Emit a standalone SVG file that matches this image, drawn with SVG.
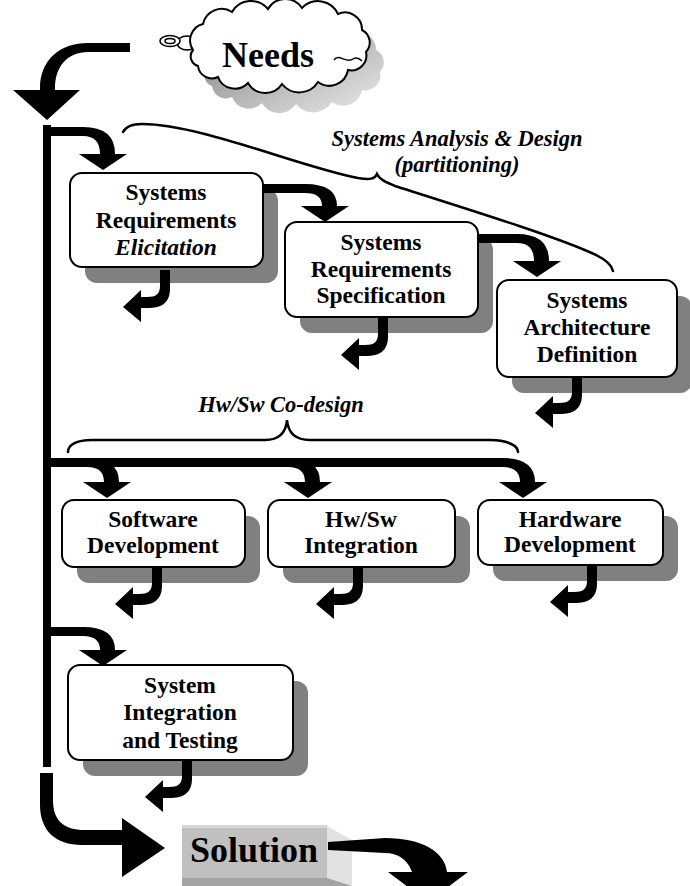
<svg xmlns="http://www.w3.org/2000/svg" width="690" height="886" viewBox="0 0 690 886">
<defs>
<style>
.t{font-family:"Liberation Serif","Times New Roman",serif;font-weight:bold;font-size:23.5px;text-anchor:middle;fill:#000}
.i{font-style:italic}
.big{font-size:36px}
.lbl{font-family:"Liberation Serif","Times New Roman",serif;font-weight:bold;font-style:italic;font-size:22.5px;text-anchor:middle;fill:#000}
.box{fill:#fff;stroke:#000;stroke-width:2}
.sh{fill:#808080}
.arr{fill:#000}
.brace{fill:none;stroke:#000;stroke-width:2.5;stroke-linecap:round}
</style>
<path id="ret" d="M -5,0 L 5,0 L 5,18 C 5,33 -3,38 -18,38 L -24,38 L -24,52 L -42,37 L -24,20 L -24,27 L -18,27 C -9,27 -5,24 -5,16 Z"/>
<path id="cloud" d="M 193,50 A 17 17 0 0 1 203,24 A 19 19 0 0 1 232,12 A 22 22 0 0 1 268,9 A 20 20 0 0 1 302,8 A 22 22 0 0 1 338,14 A 17 17 0 0 1 362,30 A 14 14 0 0 1 366,52 A 15 15 0 0 1 348,70 A 19 19 0 0 1 318,82 A 22 22 0 0 1 282,84 A 20 20 0 0 1 248,83 A 18 18 0 0 1 218,77 A 14 14 0 0 1 198,66 A 10 10 0 0 1 193,50 Z"/>
<linearGradient id="cg" x1="0" y1="0" x2="1" y2="1">
<stop offset="0" stop-color="#7a7a7a"/>
<stop offset="1" stop-color="#ececec"/>
</linearGradient>
</defs>
<rect width="690" height="886" fill="#fff"/>

<g id="needs">
<use href="#cloud" transform="translate(14,20)" fill="url(#cg)"/>
<ellipse cx="187" cy="43" rx="10" ry="7" fill="#fff" stroke="#000" stroke-width="1.5"/>
<ellipse cx="170" cy="41" rx="10" ry="5.5" fill="#fff" stroke="#000" stroke-width="1.5"/>
<ellipse cx="170" cy="41" rx="5" ry="2.5" fill="none" stroke="#000" stroke-width="1.5"/>
<use href="#cloud" fill="#fff" stroke="#000" stroke-width="2"/>
<path d="M 334,60 C 339,53 346,64 353,59 C 356,57 359,58 362,61" fill="none" stroke="#000" stroke-width="1.5"/>
<text class="t big" x="268" y="67">Needs</text>
</g>

<g id="req-elicitation">
<rect class="sh" x="85" y="189" width="193" height="94" rx="12"/>
<rect class="box" x="70" y="173" width="193" height="94" rx="12"/>
<text class="t" x="166" y="200">Systems</text>
<text class="t" x="166" y="228">Requirements</text>
<text class="t i" x="166" y="255">Elicitation</text>
</g>

<g id="req-specification">
<rect class="sh" x="300" y="238" width="193" height="95" rx="12"/>
<rect class="box" x="285" y="222" width="193" height="95" rx="12"/>
<text class="t" x="381" y="250">Systems</text>
<text class="t" x="381" y="277">Requirements</text>
<text class="t" x="381" y="303">Specification</text>
</g>

<g id="arch-definition">
<rect class="sh" x="512" y="296" width="180" height="97" rx="12"/>
<rect class="box" x="497" y="280" width="180" height="97" rx="12"/>
<text class="t" x="587" y="308">Systems</text>
<text class="t" x="587" y="335">Architecture</text>
<text class="t" x="587" y="362">Definition</text>
</g>

<g id="software-dev">
<rect class="sh" x="77" y="516" width="183" height="67" rx="12"/>
<rect class="box" x="62" y="500" width="183" height="67" rx="12"/>
<text class="t" x="153" y="527">Software</text>
<text class="t" x="153" y="553">Development</text>
</g>

<g id="hwsw-integration">
<rect class="sh" x="283" y="516" width="187" height="67" rx="12"/>
<rect class="box" x="268" y="500" width="187" height="67" rx="12"/>
<text class="t" x="361" y="527">Hw/Sw</text>
<text class="t" x="361" y="553">Integration</text>
</g>

<g id="hardware-dev">
<rect class="sh" x="493" y="516" width="185" height="65" rx="12"/>
<rect class="box" x="478" y="500" width="185" height="65" rx="12"/>
<text class="t" x="570" y="527">Hardware</text>
<text class="t" x="570" y="552">Development</text>
</g>

<g id="system-integration">
<rect class="sh" x="83" y="681" width="225" height="95" rx="12"/>
<rect class="box" x="68" y="665" width="225" height="95" rx="12"/>
<text class="t" x="180" y="693">System</text>
<text class="t" x="180" y="720">Integration</text>
<text class="t" x="180" y="748">and Testing</text>
</g>

<g id="solution">
<polygon points="327,826 352,840 352,886 327,886" fill="#e2e2e2"/>
<polygon points="182,878 327,878 352,886 182,886" fill="#a4a4a4"/>
<rect x="182" y="825" width="145" height="53" fill="#c0c0c0"/>
<rect x="182" y="825" width="145" height="3" fill="#d6d6d6"/>
<text class="t big" x="254" y="862">Solution</text>
</g>

<g id="annotations">
<path class="brace" d="M 123,132 C 126,126 132,124 142,124 C 200,124 300,167 358,178 C 370,180 375,179 377,174 C 380,180 386,182 395,186 C 480,213 560,238 596,255 C 606,260 612,266 613,271"/>
<text class="lbl" x="457" y="146">Systems Analysis &amp; Design</text>
<text class="lbl" x="457" y="172">(partitioning)</text>
<path class="brace" d="M 68,452 C 68,445 76,440 92,440 L 265,440 C 280,440 286,432 287,420 C 288,432 294,440 310,440 L 490,440 C 508,440 518,446 518,452"/>
<text class="lbl" x="281" y="412">Hw/Sw Co-design</text>
</g>

<g id="connectors">
<path class="arr" d="M 130,43 L 88,43 C 60,43 40,60 40,88 L 40,90 L 13,90 L 47,120 L 80,90 L 55,90 L 55,88 C 55,66 68,52 88,52 L 130,52 Z"/>
<rect class="arr" x="43" y="125" width="8" height="642"/>
<path class="arr" d="M 51,127 L 83,127 Q 115,127 115,154 L 127,154 L 103,170 L 79,154 L 100,154 Q 100,136 83,136 L 51,136 Z"/>
<path class="arr" d="M 263,184 L 305,184 Q 337,184 337,206 L 349,206 L 325,222 L 301,206 L 322,206 Q 322,193 305,193 L 263,193 Z"/>
<path class="arr" d="M 478,234 L 517,234 Q 549,234 549,261 L 561,261 L 537,277 L 513,261 L 534,261 Q 534,243 517,243 L 478,243 Z"/>
<path class="arr" d="M 43,458 L 503,458 Q 535,458 535,482 L 547,482 L 523,498 L 499,482 L 520,482 Q 520,467 503,467 L 43,467 Z"/>
<path class="arr" d="M 82,458 L 87,458 Q 119,458 119,482 L 131,482 L 107,498 L 83,482 L 104,482 Q 104,467 87,467 L 82,467 Z"/>
<path class="arr" d="M 283,458 L 288,458 Q 320,458 320,482 L 332,482 L 308,498 L 284,482 L 305,482 Q 305,467 288,467 L 283,467 Z"/>
<path class="arr" d="M 51,627 L 83,627 Q 115,627 115,650 L 127,650 L 103,666 L 79,650 L 100,650 Q 100,636 83,636 L 51,636 Z"/>
<use class="arr" href="#ret" transform="translate(165,270)"/>
<use class="arr" href="#ret" transform="translate(383,318)"/>
<use class="arr" href="#ret" transform="translate(577,376)"/>
<use class="arr" href="#ret" transform="translate(157,567)"/>
<use class="arr" href="#ret" transform="translate(358,567)"/>
<use class="arr" href="#ret" transform="translate(592,565)"/>
<use class="arr" href="#ret" transform="translate(187,760)"/>
<path class="arr" d="M 40,773 L 53,773 L 53,800 C 53,820 63,830 85,830 L 122,830 L 122,818 L 165,848 L 122,877 L 122,845 L 82,845 C 55,845 40,830 40,805 Z"/>
<path class="arr" d="M 328,842 L 385,838 C 422,838 445,852 447,872 L 468,872 L 428,902 L 388,872 L 412,872 C 408,860 398,853 385,853 L 328,850 Z"/>
</g>
</svg>
